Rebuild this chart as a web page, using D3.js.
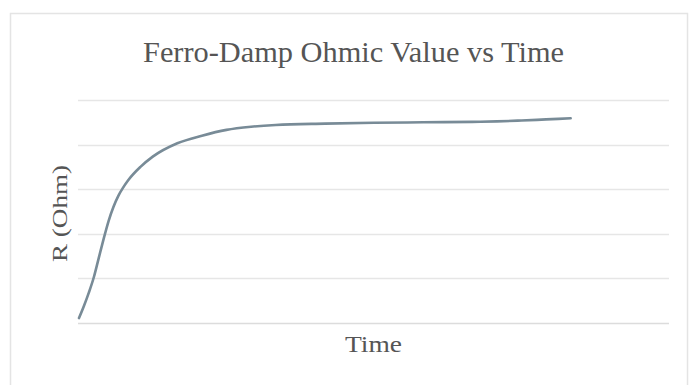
<!DOCTYPE html>
<html>
<head>
<meta charset="utf-8">
<script src="https://cdn.jsdelivr.net/npm/d3@7"></script>
<style>
  html, body { margin: 0; padding: 0; background: #fff; }
  svg { display: block; }
</style>
</head>
<body>
<div id="chart"></div>
<script>
// data (time units are arbitrary, R in grid units)
const times = [0, 0.1, 0.2, 0.3, 0.4, 0.5, 0.6, 0.7, 0.8, 0.9, 1, 1.25, 1.5, 2, 2.5, 3, 3.5, 4, 5, 6, 7, 8, 8.5, 9, 9.5, 10];
const resistance = [0.11, 0.38, 0.68, 1.02, 1.45, 1.88, 2.28, 2.6, 2.85, 3.04, 3.2, 3.5, 3.73, 4.03, 4.2, 4.33, 4.4, 4.44, 4.47, 4.49, 4.5, 4.51, 4.52, 4.54, 4.565, 4.59];
const gridTicks = [0, 1, 2, 3, 4, 5];

const titleText = "Ferro-Damp Ohmic Value vs Time";
const xLabel = "Time";
const yLabel = "R (Ohm)";

const width = 691, height = 385;
const margin = { top: 100, right: 22, bottom: 62, left: 79 };

const svg = d3.select("#chart").append("svg")
    .attr("width", width)
    .attr("height", height);

// chart frame
svg.append("rect")
    .attr("x", 10.5)
    .attr("y", 13.5)
    .attr("width", 677)
    .attr("height", 400)
    .attr("fill", "none")
    .attr("stroke", "#e4e4e4")
    .attr("stroke-width", 1.5);

const x = d3.scaleLinear()
    .domain([0, 12])
    .range([margin.left, width - margin.right]);

const y = d3.scaleLinear()
    .domain([0, 5])
    .range([height - margin.bottom, margin.top]);

// gridlines
svg.append("g")
    .selectAll("line")
    .data(gridTicks)
    .join("line")
    .attr("x1", x.range()[0] - 1)
    .attr("x2", x.range()[1])
    .attr("y1", d => Math.round(y(d)) + 0.5)
    .attr("y2", d => Math.round(y(d)) + 0.5)
    .attr("stroke", d => d === 0 ? "#dcdcdc" : "#e6e6e6")
    .attr("stroke-width", 1.5);

// the curve
const line = d3.line()
    .x((d, i) => x(times[i]))
    .y(d => y(d))
    .curve(d3.curveMonotoneX);

svg.append("path")
    .datum(resistance)
    .attr("d", line)
    .attr("fill", "none")
    .attr("stroke", "#788b97")
    .attr("stroke-width", 2.6)
    .attr("stroke-linecap", "round");

// texts
const font = "'Liberation Serif', 'DejaVu Serif', serif";

svg.append("text")
    .attr("x", 353.5)
    .attr("y", 62)
    .attr("text-anchor", "middle")
    .attr("textLength", 421)
    .attr("lengthAdjust", "spacingAndGlyphs")
    .style("font-family", font)
    .style("font-size", "29px")
    .style("fill", "#555")
    .text(titleText);

svg.append("text")
    .attr("x", 373.5)
    .attr("y", 352)
    .attr("text-anchor", "middle")
    .attr("textLength", 57)
    .attr("lengthAdjust", "spacingAndGlyphs")
    .style("font-family", font)
    .style("font-size", "23px")
    .style("fill", "#555")
    .text(xLabel);

svg.append("text")
    .attr("transform", "translate(67,213.5) rotate(-90)")
    .attr("text-anchor", "middle")
    .attr("textLength", 97)
    .attr("lengthAdjust", "spacingAndGlyphs")
    .style("font-family", font)
    .style("font-size", "20px")
    .style("fill", "#555")
    .text(yLabel);
</script>
</body>
</html>
